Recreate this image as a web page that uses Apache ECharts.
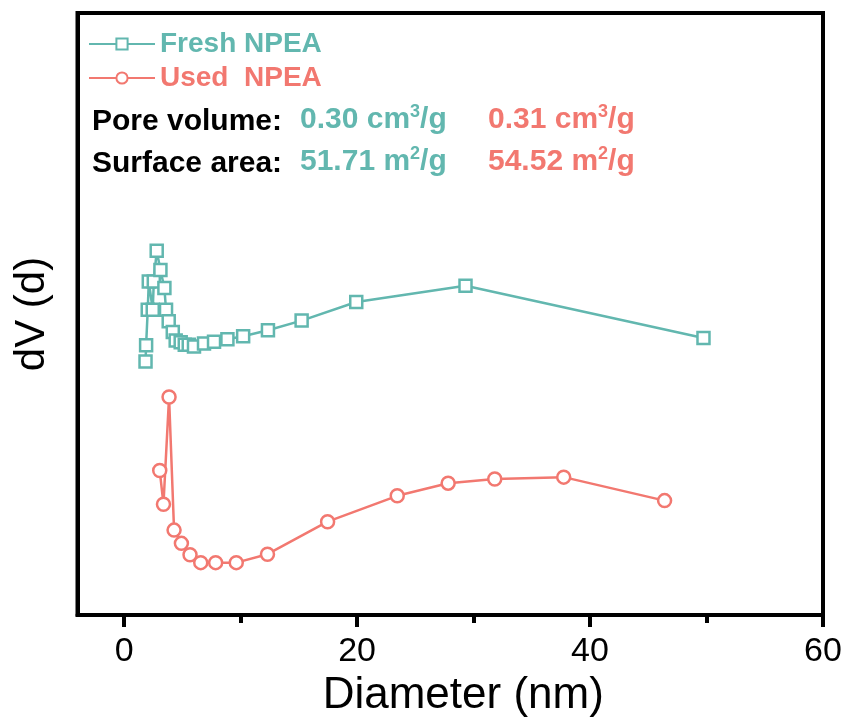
<!DOCTYPE html>
<html>
<head>
<meta charset="utf-8">
<script src="https://cdn.jsdelivr.net/npm/echarts@6/dist/echarts.min.js"></script>
<style>
  html, body { margin: 0; padding: 0; background: #fff; }
  #chart { width: 850px; height: 724px; }
</style>
</head>
<body>
<div id="chart"></div>
<script>
// pore diameter (nm) and dV (arbitrary, offset curves, no y scale shown)
var freshD = [1.84, 1.89, 2.03, 2.12, 2.46, 2.55, 2.80, 3.12, 3.46, 3.60, 3.83, 4.18, 4.43, 4.86, 5.21, 5.55, 6.00, 6.86, 7.72, 8.87, 10.22, 12.35, 15.24, 19.93, 29.31, 49.74];
var freshV = [42.1, 44.8, 50.7, 55.4, 50.7, 55.4, 60.5, 57.3, 54.3, 50.7, 48.8, 47.0, 45.6, 45.3, 44.9, 44.9, 44.6, 45.1, 45.4, 45.8, 46.3, 47.3, 48.9, 52.0, 54.7, 46.0];
var usedD = [3.06, 3.38, 3.86, 4.29, 4.92, 5.66, 6.58, 7.86, 9.63, 12.31, 17.47, 23.45, 27.82, 31.82, 37.74, 46.40];
var usedV = [24.0, 18.4, 36.2, 14.1, 11.9, 10.0, 8.7, 8.7, 8.7, 10.1, 15.5, 19.8, 21.9, 22.6, 22.9, 19.0];
var xTicks = [0, 20, 40, 60];
var xMinorTicks = [10, 30, 50];

var teal = '#62b7af';
var red = '#f27870';
var font = 'Arial, "Liberation Sans", sans-serif';

function pairs(xs, ys) {
    var out = [];
    for (var i = 0; i < xs.length; i++) {
        out.push([xs[i], ys[i]]);
    }
    return out;
}

function supText(main, sup, rest, color) {
    return {
        text: '{a|' + main + '}{s|' + sup + '}{a|' + rest + '}',
        fill: color,
        rich: {
            a: { fontSize: 30, fontWeight: 'bold', fontFamily: font, fill: color, lineHeight: 34 },
            s: { fontSize: 18, fontWeight: 'bold', fontFamily: font, fill: color, lineHeight: 18, verticalAlign: 'top' }
        }
    };
}

var myChart = echarts.init(document.getElementById('chart'), null, { renderer: 'canvas' });

var option = {
    animation: false,
    backgroundColor: '#fff',
    grid: {
        left: 77.5,
        right: 27,
        top: 13,
        bottom: 109,
        show: true,
        borderColor: '#000',
        borderWidth: 4
    },
    legend: {
        orient: 'vertical',
        left: 83,
        top: 24,
        itemWidth: 66,
        itemHeight: 14,
        itemGap: 4,
        selectedMode: false,
        textStyle: { fontSize: 28, fontWeight: 'bold', fontFamily: font, lineHeight: 30 },
        data: [
            { name: 'Fresh NPEA', textStyle: { color: teal } },
            { name: 'Used  NPEA', textStyle: { color: red } }
        ]
    },
    xAxis: [
        {
            type: 'value',
            min: -4,
            max: 60,
            name: 'Diameter (nm)',
            nameLocation: 'middle',
            nameGap: 52,
            nameTextStyle: { fontSize: 44, fontFamily: font, color: '#000', padding: [0, 0, 0, 26] },
            axisLine: { onZero: false, lineStyle: { color: '#000', width: 4 } },
            axisTick: { show: true, inside: false, length: 12, customValues: xTicks, lineStyle: { width: 4, color: '#000' } },
            axisLabel: { customValues: xTicks, margin: 20, fontSize: 34, fontFamily: font, color: '#000' },
            splitLine: { show: false }
        },
        {
            type: 'value',
            min: -4,
            max: 60,
            position: 'bottom',
            axisLine: { show: false },
            axisTick: { show: true, inside: false, length: 8, customValues: xMinorTicks, lineStyle: { width: 4, color: '#000' } },
            axisLabel: { show: false },
            splitLine: { show: false }
        }
    ],
    yAxis: {
        type: 'value',
        min: 0,
        max: 100,
        name: 'dV (d)',
        nameLocation: 'middle',
        nameGap: 24,
        nameTextStyle: { fontSize: 42, fontFamily: font, color: '#000' },
        axisLine: { show: true, onZero: false, lineStyle: { color: '#000', width: 4 } },
        axisTick: { show: false },
        axisLabel: { show: false },
        splitLine: { show: false }
    },
    series: [
        {
            name: 'Fresh NPEA',
            type: 'line',
            data: pairs(freshD, freshV),
            symbol: 'rect',
            symbolSize: 12,
            lineStyle: { color: teal, width: 2.5 },
            itemStyle: { color: '#fff', borderColor: teal, borderWidth: 2.5 }
        },
        {
            name: 'Used  NPEA',
            type: 'line',
            data: pairs(usedD, usedV),
            symbol: 'circle',
            symbolSize: 13,
            lineStyle: { color: red, width: 2.5 },
            itemStyle: { color: '#fff', borderColor: red, borderWidth: 2.5 }
        }
    ],
    graphic: [
        { type: 'text', left: 92, top: 107, style: { text: 'Pore volume:', fontSize: 30, fontWeight: 'bold', fontFamily: font, fill: '#000' } },
        { type: 'text', left: 300, top: 103, style: supText('0.30 cm', '3', '/g', teal) },
        { type: 'text', left: 488, top: 103, style: supText('0.31 cm', '3', '/g', red) },
        { type: 'text', left: 92, top: 149, style: { text: 'Surface area:', fontSize: 30, fontWeight: 'bold', fontFamily: font, fill: '#000' } },
        { type: 'text', left: 300, top: 145, style: supText('51.71 m', '2', '/g', teal) },
        { type: 'text', left: 488, top: 145, style: supText('54.52 m', '2', '/g', red) }
    ]
};

myChart.setOption(option);
</script>
</body>
</html>
